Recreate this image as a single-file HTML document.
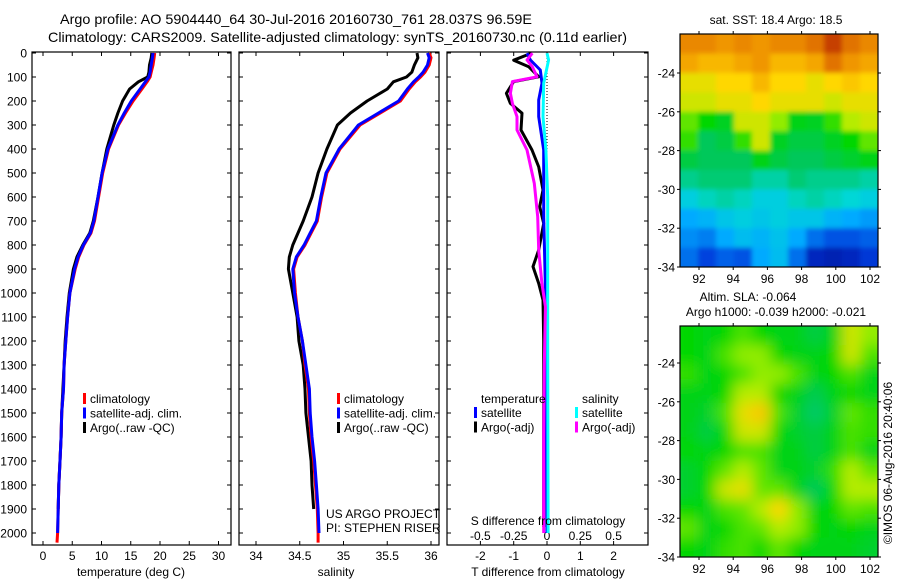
<!DOCTYPE html>
<html><head><meta charset="utf-8">
<style>
html,body{margin:0;padding:0;background:#fff;}
svg{display:block;font-family:"Liberation Sans",sans-serif;}
text{fill:#000;}
</style></head>
<body>
<svg id="fig" width="900" height="580" viewBox="0 0 900 580">
<defs>
<clipPath id="clip1"><rect x="680" y="34" width="198" height="233"/></clipPath>
<clipPath id="clip2"><rect x="680" y="326" width="198" height="231"/></clipPath>
<filter id="blur1" x="-10%" y="-10%" width="120%" height="120%"><feGaussianBlur stdDeviation="2.5"/></filter>
<filter id="blur2" x="-10%" y="-10%" width="120%" height="120%"><feGaussianBlur stdDeviation="7"/></filter>
</defs>
<g id="titles">
<text x="60" y="24" font-size="14" textLength="472" lengthAdjust="spacingAndGlyphs">Argo profile: AO 5904440_64 30-Jul-2016 20160730_761 28.037S 96.59E</text>
<text x="48" y="42" font-size="14" textLength="579" lengthAdjust="spacingAndGlyphs">Climatology: CARS2009. Satellite-adjusted climatology: synTS_20160730.nc (0.11d earlier)</text>
</g>
<g id="p1"></g>
<g id="p2"></g>
<g id="p3"></g>
<g id="m1"></g>
<g id="m2"></g>
<text transform="translate(892,463) rotate(-90)" font-size="12" text-anchor="middle">©IMOS 06-Aug-2016 20:40:06</text>
</svg>
<script>
// ---- profile data ----
const depth = [0,20,50,80,100,120,150,200,250,300,400,500,600,700,750,800,850,900,1000,1100,1200,1300,1400,1500,1600,1700,1800,1900,2000,2040];
const tClim = [19.1,19.0,18.8,18.5,18.3,17.8,16.9,15.4,14.1,12.9,11.2,10.2,9.5,8.8,8.2,7.0,6.1,5.5,4.6,4.2,3.9,3.6,3.5,3.2,3.1,2.9,2.7,2.6,2.5,2.4];
const tSat = [18.8,18.7,18.5,18.3,18.1,17.5,16.6,15.1,13.9,12.8,11.1,10.1,9.4,8.7,8.1,6.9,6.0,5.4,4.6,4.2,3.9,3.6,3.5,3.2,3.1,2.9,2.7,2.6,2.5,null];
const tArgo = [18.6,18.5,18.2,18.1,17.9,16.3,14.8,13.6,12.8,12.1,10.9,10.1,9.4,8.6,8.0,6.8,5.8,5.2,4.5,4.1,3.8,3.6,3.4,3.2,3.1,2.9,2.7,2.6,null,null];
const sClim = [35.98,36.0,35.98,35.93,35.88,35.82,35.75,35.65,35.42,35.19,34.96,34.81,34.75,34.70,34.63,34.56,34.47,34.43,34.45,34.48,34.53,34.56,34.6,34.61,34.63,34.66,34.68,34.70,34.71,34.71];
const sSat = [35.96,35.98,35.96,35.91,35.86,35.80,35.73,35.63,35.40,35.17,34.95,34.80,34.74,34.69,34.62,34.55,34.46,34.42,34.44,34.48,34.53,34.57,34.61,34.62,34.64,34.67,34.69,34.71,34.72,null];
const sArgo = [35.84,35.85,35.81,35.78,35.72,35.57,35.5,35.27,35.08,34.93,34.81,34.71,34.64,34.54,34.48,34.42,34.38,34.37,34.42,34.47,34.49,34.54,34.56,34.57,34.6,34.63,34.64,34.66,null,null];
// ---- difference data ----
const dTArgoDepth = [0,30,57,99,119,168,210,251,321,404,474,571,640,710,821,890,960,1029,1200,1500,1800,1975];
const dTArgo = [-0.45,-1.0,-0.55,-0.25,-1.0,-1.22,-1.1,-0.75,-0.78,-0.45,-0.25,-0.12,-0.22,-0.1,-0.25,-0.42,-0.25,-0.12,-0.1,-0.1,-0.1,-0.1];
const dSArgoDepth = [1,29,57,99,119,168,210,265,321,404,543,682,821,960,1057,1300,1600,2000];
const dSArgo = [-0.11,-0.15,-0.11,-0.075,-0.26,-0.275,-0.26,-0.225,-0.225,-0.15,-0.095,-0.07,-0.062,-0.038,-0.012,-0.02,-0.025,-0.025];
const dTSatDepth = [1,29,71,126,196,265,404,682,960,1300,2000];
const dTSat = [-0.6,-0.5,-0.2,-0.15,-0.25,-0.25,-0.1,-0.1,-0.05,-0.03,0];
const dSSatDepth = [1,29,126,265,404,600,1200,2000];
const dSSat = [0,0.012,-0.025,-0.03,-0.008,0.005,0.005,0.008];
// ---- ticks ----
const depthTicks = [0,100,200,300,400,500,600,700,800,900,1000,1100,1200,1300,1400,1500,1600,1700,1800,1900,2000];
const tTicks = [0,5,10,15,20,25,30];
const sTicks = [34,34.5,35,35.5,36];
const sTickLabels = ["34","34.5","35","35.5","36"];
const dTTicks = [-2,-1,0,1,2];
const dSTicks = [-0.5,-0.25,0,0.25,0.5];
const dSTickLabels = ["-0.5","-0.25","0","0.25","0.5"];
const lonTicks = [92,94,96,98,100,102];
const latTicks = [-24,-26,-28,-30,-32,-34];
// ---- map grids (colour index 0..1), rows north->south ----
const sstGrid = [
[.82,.82,.80,.82,.80,.82,.82,.85,.92,.85,.82],
[.78,.76,.76,.78,.80,.76,.76,.78,.85,.80,.78],
[.70,.70,.72,.72,.76,.72,.72,.70,.72,.74,.72],
[.68,.68,.70,.70,.72,.70,.70,.70,.68,.70,.70],
[.62,.58,.55,.68,.68,.64,.56,.55,.60,.66,.68],
[.60,.50,.52,.60,.68,.55,.52,.52,.55,.58,.62],
[.52,.50,.50,.50,.56,.52,.50,.50,.52,.54,.56],
[.46,.48,.48,.48,.44,.44,.48,.46,.46,.46,.44],
[.38,.42,.44,.42,.38,.38,.42,.44,.42,.40,.38],
[.30,.32,.36,.38,.36,.38,.36,.36,.32,.30,.28],
[.26,.24,.30,.34,.32,.35,.30,.22,.18,.18,.20],
[.22,.16,.20,.18,.30,.34,.22,.10,.08,.10,.14]];
const slaGrid = [
[.52,.50,.52,.55,.52,.50,.50,.46,.50,.62,.58],
[.52,.50,.55,.58,.58,.52,.50,.50,.52,.62,.55],
[.54,.50,.52,.55,.58,.58,.55,.50,.52,.55,.50],
[.50,.50,.52,.60,.60,.52,.50,.45,.50,.52,.50],
[.50,.48,.55,.64,.68,.55,.48,.43,.48,.56,.54],
[.50,.46,.52,.62,.62,.52,.48,.46,.50,.55,.54],
[.52,.50,.52,.55,.55,.50,.50,.46,.50,.55,.50],
[.48,.52,.56,.60,.56,.50,.50,.48,.54,.60,.56],
[.48,.52,.62,.64,.56,.56,.50,.44,.52,.60,.60],
[.52,.50,.55,.56,.60,.66,.58,.50,.52,.56,.55],
[.56,.50,.52,.55,.56,.60,.58,.52,.50,.52,.50],
[.52,.50,.54,.55,.52,.56,.52,.50,.50,.50,.48]];

const NS='http://www.w3.org/2000/svg';
function mk(parent,tag,attrs){const e=document.createElementNS(NS,tag);for(const k in attrs)e.setAttribute(k,attrs[k]);parent.appendChild(e);return e;}
function txt(parent,x,y,s,size,anchor){const e=mk(parent,'text',{x:x,y:y,'font-size':size,'text-anchor':anchor||'start'});e.textContent=s;return e;}

const TOP=52,BOT=545;
const yD = d => 53 + 0.24*d;
const xT = t => 43 + 5.85*t;
const xS = s => 256 + 87.5*(s-34);
const xDT = v => 547 + 33.3*v;
const xDS = v => 547 + 133.2*v;

function frame(g,x0,x1,name){
  const r=mk(g,'rect',{x:x0,y:TOP,width:x1-x0,height:BOT-TOP,fill:'none',stroke:'#000','stroke-width':1.2});
  
  
}
function yTicks(g,x0,x1,labels){
  depthTicks.forEach(d=>{
    const y=yD(d);
    mk(g,'line',{x1:x0,y1:y,x2:x0+4,y2:y,stroke:'#000'});
    mk(g,'line',{x1:x1-4,y1:y,x2:x1,y2:y,stroke:'#000'});
    if(labels){const t=txt(g,27,y+4.5,String(d),12,'end');
      
      }
  });
}
function xTicks(g,vals,labels,fx,ly){
  vals.forEach((v,i)=>{
    const x=fx(v);
    mk(g,'line',{x1:x,y1:TOP,x2:x,y2:TOP+4,stroke:'#000'});
    mk(g,'line',{x1:x,y1:BOT-4,x2:x,y2:BOT,stroke:'#000'});
    const t=txt(g,x,ly,labels[i],12,'middle');
    
    
  });
}
function line(g,xs,ds,fx,color,name,w){
  let pts=[];
  for(let i=0;i<xs.length;i++){if(xs[i]===null)continue;pts.push(fx(xs[i]).toFixed(1)+','+yD(ds[i]).toFixed(1));}
  const p=mk(g,'polyline',{points:pts.join(' '),fill:'none',stroke:color,'stroke-width':w||3,'stroke-linejoin':'round'});
  
  
}
function legend(g,x,y,items){
  items.forEach((it,i)=>{
    mk(g,'rect',{x:x,y:y+i*14.5-10,width:3,height:11,fill:it[1]});
    const t=txt(g,x+7,y+i*14.5,it[0],12,'start');
    
    
  });
}

// Panel 1
const p1=document.getElementById('p1');
frame(p1,32,231,'temperature-panel');
yTicks(p1,32,231,true);
xTicks(p1,tTicks,tTicks.map(String),xT,560);
line(p1,tArgo,depth,xT,'#000','argo-temperature-line');
line(p1,tClim,depth,xT,'#f00','climatology-temperature-line');
line(p1,tSat,depth,xT,'#00f','satellite-temperature-line');
legend(p1,83,403,[['climatology','#f00'],['satellite-adj. clim.','#00f'],['Argo(..raw -QC)','#000']]);
{const t=txt(p1,131,576,'temperature (deg C)',12,'middle');}

// Panel 2
const p2=document.getElementById('p2');
frame(p2,239,439,'salinity-panel');
yTicks(p2,239,439,false);
xTicks(p2,sTicks,sTickLabels,xS,560);
line(p2,sArgo,depth,xS,'#000','argo-salinity-line');
line(p2,sClim,depth,xS,'#f00','climatology-salinity-line');
line(p2,sSat,depth,xS,'#00f','satellite-salinity-line');
legend(p2,337,403,[['climatology','#f00'],['satellite-adj. clim.','#00f'],['Argo(..raw -QC)','#000']]);
{const t=txt(p2,326,518,'US ARGO PROJECT',12,'start');
 const u=txt(p2,326,532,'PI: STEPHEN RISER',12,'start');
 const v=txt(p2,336,576,'salinity',12,'middle');}

// Panel 3
const p3=document.getElementById('p3');
frame(p3,447,648,'difference-panel');
yTicks(p3,447,648,false);
dTTicks.forEach(v=>{const x=xDT(v);mk(p3,'line',{x1:x,y1:TOP,x2:x,y2:TOP+4,stroke:'#000'});mk(p3,'line',{x1:x,y1:BOT-4,x2:x,y2:BOT,stroke:'#000'});
  const t=txt(p3,x,560,String(v),12,'middle');});
dSTicks.forEach((v,i)=>{const t=txt(p3,xDS(v),540,dSTickLabels[i],12,'middle');});
mk(p3,'line',{x1:547,y1:TOP,x2:547,y2:yD(580),stroke:'#000','stroke-dasharray':'1,2'});
line(p3,dTArgo,dTArgoDepth,xDT,'#000','argo-temperature-difference');
line(p3,dTSat,dTSatDepth,xDT,'#00f','satellite-temperature-difference');
line(p3,dSSat,dSSatDepth,xDS,'#0ff','satellite-salinity-difference');
line(p3,dSArgo,dSArgoDepth,xDS,'#f0f','argo-salinity-difference');
{const t=txt(p3,481,403,'temperature',12,'start');
 const s=txt(p3,582,403,'salinity',12,'start');}
legend(p3,474,417,[['satellite','#00f'],['Argo(-adj)','#000']]);
legend(p3,575,417,[['satellite','#0ff'],['Argo(-adj)','#f0f']]);
{const t=txt(p3,548,525,'S difference from climatology',12,'middle');
 const u=txt(p3,548,576,'T difference from climatology',12,'middle');}

// Maps
const cmapStops=[[0,[0,0,130]],[0.15,[0,60,220]],[0.3,[0,170,255]],[0.4,[0,215,215]],[0.5,[0,200,90]],[0.58,[0,215,0]],[0.65,[170,240,0]],[0.72,[255,215,0]],[0.8,[240,150,0]],[0.9,[210,80,0]],[1,[150,0,0]]];
function cmap(v){
  v=Math.max(0,Math.min(1,v));
  for(let i=1;i<cmapStops.length;i++){
    if(v<=cmapStops[i][0]){const a=cmapStops[i-1],b=cmapStops[i];const f=(v-a[0])/(b[0]-a[0]);
      return 'rgb('+[0,1,2].map(k=>Math.round(a[1][k]+(b[1][k]-a[1][k])*f)).join(',')+')';}
  }
  return 'rgb(150,0,0)';
}
function map(g,grid,y0,y1,latY,titles,name,offset,clip,blur){
  const x0=680,x1=878;
  const rows=grid.length,cols=grid[0].length;
  const cw=(x1-x0)/cols,ch=(y1-y0)/rows;
  const cg=mk(g,'g',{'clip-path':'url(#'+clip+')'});
  const bg=mk(cg,'g',{filter:'url(#'+blur+')'});
  grid.forEach((row,i)=>row.forEach((v,j)=>{
    const X=x0+j*cw, Y=y0+i*ch;
    const ex0=(j===0)?-12:0, ex1=(j===cols-1)?12:0, ey0=(i===0)?-12:0, ey1=(i===rows-1)?12:0;
    const c=mk(bg,'rect',{x:(X+ex0).toFixed(2),y:(Y+ey0).toFixed(2),width:(cw+0.6-ex0+ex1).toFixed(2),height:(ch+0.6-ey0+ey1).toFixed(2),fill:cmap(v+offset)});
    
    
  }));
  const f=mk(g,'rect',{x:x0,y:y0,width:x1-x0,height:y1-y0,fill:'none',stroke:'#000','stroke-width':1.2});
  
  
  lonTicks.forEach(l=>{const x=699+17.1*(l-92);
    mk(g,'line',{x1:x,y1:y0-3,x2:x,y2:y0,stroke:'#000'});mk(g,'line',{x1:x,y1:y1,x2:x,y2:y1+3,stroke:'#000'});
    const t=txt(g,x,y1+16,String(l),12,'middle');});
  latTicks.forEach(l=>{const y=latY(l);
    mk(g,'line',{x1:x0-3,y1:y,x2:x0,y2:y,stroke:'#000'});mk(g,'line',{x1:x1,y1:y,x2:x1+3,y2:y,stroke:'#000'});
    const t=txt(g,675,y+4.5,String(l),12,'end');});
  titles.forEach(tt=>{const t=txt(g,tt[0],tt[1],tt[2],12,'middle');});
}
map(document.getElementById('m1'),sstGrid,34,267,l=>73+19.4*(-24-l),[[776,24,'sat. SST: 18.4 Argo: 18.5']],'sst-map',0,'clip1','blur1');
map(document.getElementById('m2'),slaGrid,326,557,l=>363+19.4*(-24-l),[[748,301,'Altim. SLA: -0.064'],[776,316,'Argo h1000: -0.039 h2000: -0.021']],'sla-map',0.06,'clip2','blur2');
</script>
</body></html>
